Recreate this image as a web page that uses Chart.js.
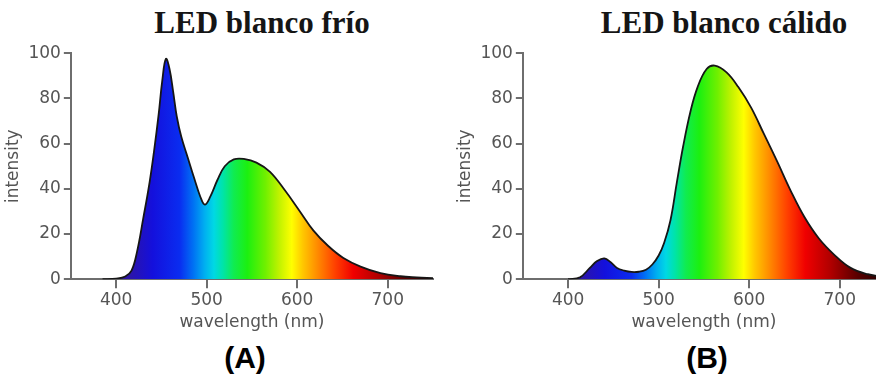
<!DOCTYPE html>
<html>
<head>
<meta charset="utf-8">
<script src="https://cdn.jsdelivr.net/npm/chart.js@4.4.1/dist/chart.umd.min.js"></script>
<style>
  html, body { margin: 0; padding: 0; background: #fff; overflow: hidden; }
  body { width: 876px; height: 376px; position: relative; }
  .box { position: absolute; top: 40px; width: 440px; height: 293px; }
  .ttl { position: absolute; top: 7px; font: bold 31px/1 "Liberation Serif", serif; color: #151515; white-space: nowrap; transform: translateX(-50%); }
  .lbl { position: absolute; top: 343px; font: bold 30px/1 "Liberation Sans", Arial, sans-serif; color: #000; transform: translateX(-50%); }
</style>
</head>
<body>
<div class="ttl" style="left:262px">LED blanco frío</div>
<div class="ttl" style="left:724px">LED blanco cálido</div>
<div class="box" style="left:0"><canvas id="ledA"></canvas></div>
<div class="box" style="left:452px"><canvas id="ledB"></canvas></div>
<div class="lbl" style="left:245px">(A)</div>
<div class="lbl" style="left:707px">(B)</div>

<script>
// cool white LED (A)
const wlA = [385, 400, 410, 417, 423, 430, 437, 442, 447, 451, 455, 459, 463, 467, 472, 479, 486, 493, 498, 504, 512, 520, 530, 541, 555, 570, 587, 603, 618, 634, 651, 670, 692, 714, 732, 750];
const intA = [0, 0.3, 1.2, 3.8, 12, 27, 43, 57, 73, 88, 97.5, 93, 83, 72, 63, 54, 45, 36.5, 33, 36.5, 44, 50, 53, 53.2, 51.6, 47.5, 39, 30, 21.5, 14.8, 9.4, 5.6, 2.7, 1.3, 0.8, 0.5];

// warm white LED (B)
const wlB = [400, 413, 424, 432, 440, 447, 454, 462, 470, 478, 486, 493, 500, 506, 513, 520, 527, 535, 543, 553, 562, 575, 588, 602, 616, 631, 646, 661, 677, 694, 712, 731, 750];
const intB = [0, 0.8, 5, 8, 9.2, 7.5, 5, 3.8, 3.2, 3.3, 4.2, 6.5, 10.5, 16, 26, 42.6, 58.7, 74, 85, 93, 94.5, 91.5, 85, 76, 64.5, 52, 39, 27.5, 18, 10.8, 5, 2.2, 0.8];

const xTicks = [400, 500, 600, 700];
const yTicks = [0, 20, 40, 60, 80, 100];

// spectrum colours by wavelength
const stopNm = [380, 415, 440, 470, 485, 498, 508, 518, 530, 545, 565, 580, 594, 606, 622, 642, 662, 690, 720, 750];
const stopCol = ['#2a1070', '#2c14a8', '#1410dc', '#0a2cf0', '#0070f4', '#00b0f0', '#00d8e4', '#00e4a8', '#10ec50', '#1cf010', '#70f000', '#c0f200', '#ffff00', '#ffc800', '#ff8c00', '#ff4000', '#f00000', '#b00000', '#580000', '#200000'];

function spectrumFill(context) {
  const chart = context.chart;
  if (!chart.chartArea) return 'rgba(0,0,0,0)';
  const xs = chart.scales.x;
  const first = stopNm[0], last = stopNm[stopNm.length - 1];
  const g = chart.ctx.createLinearGradient(xs.getPixelForValue(first), 0, xs.getPixelForValue(last), 0);
  stopNm.forEach((nm, i) => g.addColorStop((nm - first) / (last - first), stopCol[i]));
  return g;
}

const axisGrey = '#6e6e6e';
const textGrey = '#555';
const tickFont = { family: 'DejaVu Sans', size: 17 };

function makeChart(id, wl, vals) {
  new Chart(document.getElementById(id), {
    type: 'line',
    data: {
      datasets: [{
        data: wl.map((w, i) => ({ x: w, y: vals[i] })),
        borderColor: '#161616',
        borderWidth: 1.8,
        backgroundColor: spectrumFill,
        fill: 'origin',
        pointRadius: 0,
        tension: 0.4
      }]
    },
    options: {
      animation: false,
      responsive: true,
      maintainAspectRatio: false,
      devicePixelRatio: 1,
      layout: { padding: { left: 1, right: 7, top: 7, bottom: 0 } },
      plugins: { legend: { display: false }, tooltip: { enabled: false } },
      scales: {
        x: {
          type: 'linear',
          min: 350,
          max: 750,
          afterBuildTicks: s => { s.ticks = xTicks.map(v => ({ value: v })); },
          grid: { drawOnChartArea: false, tickLength: 9, color: axisGrey, lineWidth: 2 },
          border: { color: axisGrey, width: 2 },
          ticks: { color: textGrey, font: tickFont, padding: 2, maxRotation: 0 },
          title: { display: true, text: 'wavelength (nm)', color: textGrey, font: tickFont, padding: { top: 0, bottom: 0 } }
        },
        y: {
          min: 0,
          max: 100,
          afterBuildTicks: s => { s.ticks = yTicks.map(v => ({ value: v })); },
          grid: { drawOnChartArea: false, tickLength: 7, color: axisGrey, lineWidth: 2 },
          border: { color: axisGrey, width: 2 },
          ticks: { color: textGrey, font: tickFont, padding: 3 },
          title: { display: true, text: 'intensity', color: textGrey, font: tickFont, padding: { top: 2, bottom: 2 } }
        }
      }
    }
  });
}

makeChart('ledA', wlA, intA);
makeChart('ledB', wlB, intB);
</script>
</body>
</html>
